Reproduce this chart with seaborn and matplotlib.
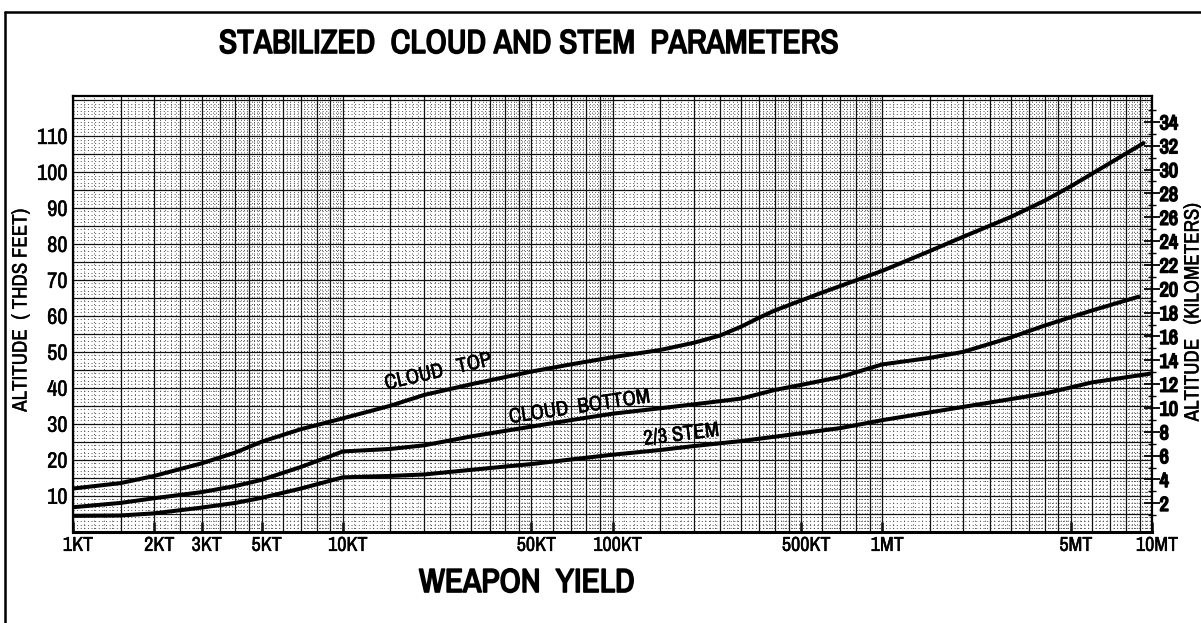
import numpy as np
import pandas as pd
import matplotlib
matplotlib.use("Agg")
import matplotlib.pyplot as plt
import matplotlib.patheffects as pe
import seaborn as sns
from matplotlib import font_manager
from matplotlib.transforms import ScaledTranslation
from matplotlib.ticker import FixedLocator, NullLocator, NullFormatter

# ---------------------------------------------------------------------------
# Stabilized cloud parameters: weapon yield (KT) vs altitude (thousands of ft)
# ---------------------------------------------------------------------------
top_yield = [1, 1.5, 2, 3, 4, 5, 7, 10, 15, 20, 30, 50, 70, 100, 150, 200,
             250, 300, 350, 400, 600, 1000, 1500, 2000, 3000, 4000, 5000,
             7000, 9300]
top_alt = [12.0, 13.5, 15.5, 19.0, 22.0, 25.0, 28.5, 31.5, 35.0, 38.0, 41.0,
           44.5, 46.5, 48.5, 50.5, 52.5, 54.5, 57.0, 59.5, 61.5, 66.5, 72.5,
           78.0, 82.0, 87.5, 92.0, 96.0, 102.5, 108.0]

bottom_yield = [1, 1.5, 2, 3, 4, 5, 7, 9, 10, 15, 20, 30, 50, 70, 100, 150,
                200, 300, 400, 500, 700, 1000, 1500, 2000, 3000, 4000, 6000,
                8900]
bottom_alt = [6.8, 8.0, 9.3, 11.0, 12.7, 14.4, 18.0, 21.0, 22.3, 23.0, 24.0,
              26.5, 29.2, 31.0, 32.8, 34.3, 35.4, 37.0, 39.4, 40.8, 43.0,
              46.5, 48.3, 50.0, 54.0, 57.3, 61.5, 65.3]

stem_yield = [1, 1.5, 2, 3, 4, 5, 7, 10, 15, 20, 30, 50, 100, 150, 200, 300,
              400, 700, 1000, 2000, 4000, 6000, 10000]
stem_alt = [4.4, 4.5, 5.1, 6.7, 8.0, 9.4, 12.0, 15.1, 15.5, 15.9, 17.2, 18.8,
            21.4, 22.7, 23.8, 25.2, 26.4, 28.8, 31.0, 34.7, 38.4, 41.5, 44.0]

xtick_values = [1, 2, 3, 5, 10, 50, 100, 500, 1000, 5000, 10000]
xtick_labels = ["1KT", "2KT", "3KT", "5KT", "10KT", "50KT", "100KT",
                "500KT", "1MT", "5MT", "10MT"]
ytick_values = [10, 20, 30, 40, 50, 60, 70, 80, 90, 100, 110]
km_major = list(range(2, 35, 2))
km_minor = list(range(1, 36))

# ---------------------------------------------------------------------------
sns.set_theme(style="white")

CONDENSED = ("condensed", "semi-condensed", "extra-condensed")


def _weight(f):
    w = f.weight
    if isinstance(w, str):
        return font_manager.weight_dict.get(w, 400)
    return int(w)


def pick_narrow_font():
    """Return (family, stretch, is_narrow, has_bold) for a narrow sans."""
    fl = font_manager.fontManager.ttflist
    choice = None
    for f in fl:
        if "Narrow" in f.name:
            choice = (f.name, "normal")
            break
    if choice is None:
        for fam in ["DejaVu Sans", "Noto Sans", "Open Sans", "Roboto",
                    "Liberation Sans", "Lato", "Inter"]:
            if any(f.name == fam and str(f.stretch) in CONDENSED for f in fl):
                st = next(str(f.stretch) for f in fl
                          if f.name == fam and str(f.stretch) in CONDENSED)
                choice = (fam, st)
                break
    if choice is None:
        for f in fl:
            if "Condensed" in f.name:
                choice = (f.name, "normal")
                break
    if choice is None:
        return "Liberation Sans", "normal", False, True
    fam, st = choice
    bold = any(f.name == fam and _weight(f) >= 600 and
               (st == "normal" or str(f.stretch) == st) for f in fl)
    return fam, st, True, bold


FAMILY, STRETCH, IS_NARROW, HAS_BOLD = pick_narrow_font()
plt.rcParams["font.family"] = [FAMILY, "DejaVu Sans"]
plt.rcParams["font.stretch"] = STRETCH
plt.rcParams["lines.scale_dashes"] = False
k = 1.0 if IS_NARROW else 0.84   # keep text widths comparable


def heavy(width):
    """Stroke outline that thickens lettering drawn with a light face."""
    return [pe.withStroke(linewidth=width, foreground="black")]


bold_fx = [] if HAS_BOLD else heavy(1.2)

W, H = 1201, 623
fig = plt.figure(figsize=(W / 100, H / 100), dpi=100)
fig.patch.set_facecolor("white")

left_px, right_px, top_px, bottom_px = 73, 1152, 96, 531.7
ax = fig.add_axes([left_px / W, (H - bottom_px) / H,
                   (right_px - left_px) / W, (bottom_px - top_px) / H])
ax.set_facecolor("white")
ax.set_xscale("log")
ax.set_xlim(1, 10000)
ax.set_ylim(0, 121.1)

# graph-paper grid
dot_style = dict(color="#4a4a4a", lw=0.7, ls=(0, (0.7, 1.9)), zorder=1)
solid_style = dict(color="#111111", lw=0.9, zorder=1.5)
for decade in [1, 10, 100, 1000]:
    solid = [1, 1.5, 2, 2.5, 3, 3.5, 4, 4.5, 5, 6, 7, 8, 9]
    fine = [m for m in np.round(np.arange(1.1, 5.0, 0.1), 2) if (m * 2) % 1]
    fine += [m for m in np.round(np.arange(5.2, 10.0, 0.2), 2) if m % 1]
    for m in fine:
        ax.axvline(m * decade, **dot_style)
    for m in solid:
        ax.axvline(m * decade, **solid_style)
for v in range(1, 121):
    if v % 5:
        ax.axhline(v, **dot_style)
    else:
        ax.axhline(v, **solid_style)

# curves
for xs, ys in [(top_yield, top_alt), (bottom_yield, bottom_alt),
               (stem_yield, stem_alt)]:
    df = pd.DataFrame({"yield_kt": xs, "alt_kft": ys})
    sns.lineplot(data=df, x="yield_kt", y="alt_kft", ax=ax, color="black",
                 lw=2.9, sort=False, estimator=None, zorder=5)

curve_font = dict(fontsize=15 * k, color="black", ha="center",
                  va="center", zorder=6, rotation_mode="anchor",
                  path_effects=heavy(0.35))
ax.text(22.6, 44.4, "CLOUD   TOP", rotation=13, **curve_font)
ax.text(75.5, 34.6, "CLOUD  BOTTOM", rotation=8.5, **curve_font)
ax.text(180, 26.9, "2/3 STEM", rotation=7, **curve_font)

# axes / ticks
ax.set_xlabel("")
ax.set_ylabel("")
ax.xaxis.set_minor_locator(NullLocator())
ax.xaxis.set_minor_formatter(NullFormatter())
ax.set_xticks(xtick_values)
ax.set_xticklabels(xtick_labels)
ax.tick_params(axis="x", which="major", direction="in", length=7, width=1.8,
               color="black", labelsize=14.5 * k, pad=3, bottom=True,
               labelcolor="black")
shift = ScaledTranslation(5 / 100, 0, fig.dpi_scale_trans)
for lbl in ax.get_xticklabels():
    lbl.set_transform(lbl.get_transform() + shift)
    lbl.set_path_effects(heavy(0.35))
ax.set_yticks(ytick_values)
ax.tick_params(axis="y", which="major", length=0, labelsize=16 * k, pad=4,
               left=True, labelcolor="black")
for lbl in ax.get_yticklabels():
    lbl.set_path_effects(heavy(0.35))
for s in ax.spines.values():
    s.set_color("black")
    s.set_linewidth(1.6)
ax.spines["bottom"].set_linewidth(2.2)

ax2 = ax.twinx()
ax2.set_ylim(-0.38, 36.17)
ax2.yaxis.set_major_locator(FixedLocator(km_major))
ax2.yaxis.set_minor_locator(FixedLocator(km_minor))
ax2.tick_params(axis="y", which="major", direction="inout", length=11,
                width=1.3, color="black", labelsize=14.5 * k, pad=0,
                labelcolor="black")
ax2.tick_params(axis="y", which="minor", direction="inout", length=6,
                width=1.0, color="black")
for lbl in ax2.get_yticklabels():
    lbl.set_fontweight("bold")
    lbl.set_path_effects(bold_fx if bold_fx else heavy(0.3))
ax2.grid(False)
for s in ax2.spines.values():
    s.set_visible(False)

# titles
fig.text(529 / W, 1 - 44 / H, "STABILIZED  CLOUD AND STEM  PARAMETERS",
         ha="center", va="center", fontsize=24 * k, fontweight="bold",
         color="black", path_effects=bold_fx)
fig.text(527 / W, 1 - 583 / H, "WEAPON  YIELD", ha="center", va="center",
         fontsize=24 * k, fontweight="bold", color="black",
         path_effects=bold_fx)
fig.text(21 / W, 1 - 310 / H, "ALTITUDE  ( THDS FEET)", ha="center",
         va="center", rotation=90, fontsize=15 * k, color="black",
         path_effects=heavy(0.3))
fig.text(1193 / W, 1 - 312 / H, "ALTITUDE   (KILOMETERS)", ha="center",
         va="center", rotation=90, fontsize=15 * k, color="black",
         path_effects=heavy(0.3))

# outer frame
fig.add_artist(plt.Line2D([5 / W, 5 / W], [0, 1 - 12 / H], color="black",
                          lw=1.8, transform=fig.transFigure))
fig.add_artist(plt.Line2D([5 / W, 1], [1 - 12 / H, 1 - 12 / H], color="black",
                          lw=1.8, transform=fig.transFigure))

fig.savefig("out.png", dpi=100, facecolor="white")
